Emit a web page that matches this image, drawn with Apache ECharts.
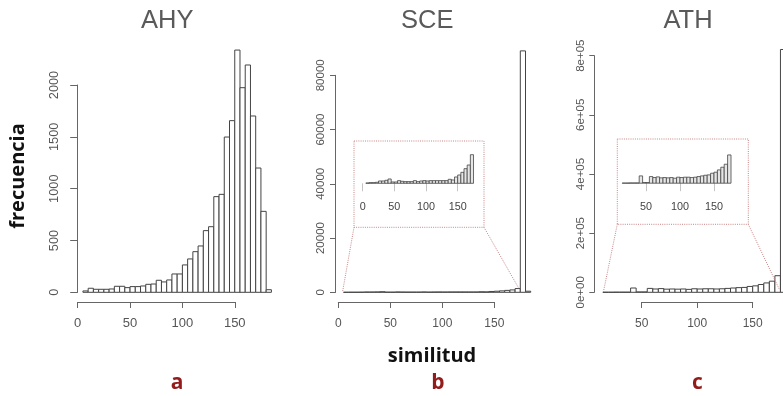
<!DOCTYPE html>
<html><head><meta charset="utf-8">
<script src="https://cdn.jsdelivr.net/npm/echarts@6/dist/echarts.min.js"></script>
<style>html,body{margin:0;padding:0;background:#fff}#c{width:783px;height:396px}</style>
</head><body><div id="c"></div>
<script>
// ---- data ----
const binWidth = 5;
const ahyStart = 5;
const ahyCounts = [13,39,29,29,29,32,58,58,45,55,55,61,77,80,116,100,119,177,177,264,322,392,447,595,633,923,945,1498,1656,2337,1974,2193,1701,1199,781,25];
const sceStart = 5;
const sceCounts = [16,32,32,48,112,112,144,208,64,64,128,96,80,80,80,128,80,112,128,112,128,128,128,128,128,128,192,160,304,400,528,704,880,1376,89000,400];
const athStart = 15;
const athCounts = [300,300,500,500,500,14500,1300,1300,13200,11200,12500,10600,11200,10600,11200,9900,11900,11200,11900,11900,11200,11900,13200,14500,15800,16500,19800,21800,26400,31700,37600,56100,821000,3000];
const insetLimit = 175;
const titles = ['AHY', 'SCE', 'ATH'];
const letters = ['a', 'b', 'c'];
const xTicksMain = [[0, 150], [0, 150], [50, 150]];
const yTicksMain = [[0, 2000, 500], [0, 80000, 20000], [0, 800000, 200000]];
const insetTicksB = [0, 50, 100, 150];
const insetTicksC = [50, 100, 150];
const yLabel = 'frecuencia';
const xLabel = 'similitud';

function toBins(start, counts, limit) {
  const out = [];
  counts.forEach((c, i) => {
    const x0 = start + i * binWidth, x1 = x0 + binWidth;
    if (limit == null || x1 <= limit) out.push([x0, x1, c]);
  });
  return out;
}

function hist(xi, data, fill, lw) {
  return {
    type: 'custom', xAxisIndex: xi, yAxisIndex: xi, data, silent: true, clip: false,
    encode: { x: [0, 1], y: 2 },
    renderItem: (params, api) => {
      const p0 = api.coord([api.value(0), api.value(2)]);
      const p1 = api.coord([api.value(1), 0]);
      return { type: 'rect', shape: { x: p0[0], y: p0[1], width: p1[0] - p0[0], height: p1[1] - p0[1] },
        style: { fill, stroke: '#444', lineWidth: lw } };
    }
  };
}

const FONT = '"Liberation Sans", Arial, sans-serif';
const TICKC = '#555';
const grids = [], xAxes = [], yAxes = [], series = [];
function addGrid(g) { grids.push(Object.assign({ containLabel: false, outerBoundsMode: 'none' }, g)); return grids.length - 1; }
const hiddenX = (gi, min, max) => ({ gridIndex: gi, type: 'value', min, max, show: false });
const hiddenY = (gi, min, max) => ({ gridIndex: gi, type: 'value', min, max, show: false });

// main plot grids: [left px of x=0, px per unit x, baseline y, px per unit y]
const mainLayout = [
  { left: 77.7, ux: 1.047, base: 292.3, yMax: 2400, uy: 0.10365, start: ahyStart, counts: ahyCounts },
  { left: 338.3, ux: 1.04, base: 292.3, yMax: 95000, uy: 0.0027125, start: sceStart, counts: sceCounts },
  { left: 586.2, ux: 1.11, base: 292.3, yMax: 900000, uy: 0.00029575, start: athStart, counts: athCounts }
];
const xMaxMain = 190;
mainLayout.forEach(m => {
  const h = m.yMax * m.uy;
  const gi = addGrid({ left: m.left, width: xMaxMain * m.ux, top: m.base - h, height: h });
  xAxes.push(hiddenX(gi, 0, xMaxMain));
  yAxes.push(hiddenY(gi, 0, m.yMax));
  series.push(hist(gi, toBins(m.start, m.counts), '#fff', 1));
});

// R-style x axes
const xAxisLayout = [
  { fs: 13, margin: 14.8 }, { fs: 12, margin: 15.3 }, { fs: 12, margin: 15.3 }
];
mainLayout.forEach((m, i) => {
  const [a, b] = xTicksMain[i];
  const gi = addGrid({ left: m.left + a * m.ux, width: (b - a) * m.ux, top: 301, height: 1 });
  xAxes.push({ gridIndex: gi, type: 'value', min: a, max: b, interval: 50, position: 'bottom',
    axisLine: { show: true, lineStyle: { color: '#666', width: 1 } },
    axisTick: { show: true, length: 6, lineStyle: { color: '#666', width: 1 } },
    axisLabel: { fontSize: xAxisLayout[i].fs, color: TICKC, fontFamily: FONT, margin: xAxisLayout[i].margin },
    splitLine: { show: false } });
  yAxes.push(hiddenY(gi, 0, 1));
  series.push({ type: 'line', xAxisIndex: gi, yAxisIndex: gi, data: [], silent: true });
});

// R-style y axes
const yAxisLayout = [
  { x: 77.7, fs: 12.8, margin: 16.6, tick: 7.5 },
  { x: 335.7, fs: 11.5, margin: 8.4, tick: 5.7 },
  { x: 594.3, fs: 11.5, margin: 7.7, tick: 5 }
];
mainLayout.forEach((m, i) => {
  const [a, b, iv] = yTicksMain[i];
  const L = yAxisLayout[i];
  const gi = addGrid({ left: L.x, width: 1, top: m.base - b * m.uy, height: (b - a) * m.uy });
  xAxes.push(hiddenX(gi, 0, 1));
  yAxes.push({ gridIndex: gi, type: 'value', min: a, max: b, interval: iv, position: 'left',
    axisLine: { show: true, lineStyle: { color: '#666', width: 1 } },
    axisTick: { show: true, length: L.tick, lineStyle: { color: '#666', width: 1 } },
    axisLabel: { rotate: 90, fontSize: L.fs, color: TICKC, fontFamily: FONT, margin: L.margin,
      formatter: i === 2 ? (v => v === 0 ? '0e+00' : (v / 100000) + 'e+05') : (v => String(v)) },
    splitLine: { show: false } });
  series.push({ type: 'line', xAxisIndex: gi, yAxisIndex: gi, data: [], silent: true });
});

// insets
const insetLayout = [
  { left: 362.7, ux: 0.6333, base: 183.3, yMax: 1500, uy: 0.020785, start: sceStart, counts: sceCounts, ticks: insetTicksB },
  { left: 612, ux: 0.68, base: 183.2, yMax: 60000, uy: 0.000504, start: athStart, counts: athCounts, ticks: insetTicksC }
];
insetLayout.forEach(s => {
  const h = s.yMax * s.uy;
  const gi = addGrid({ left: s.left, width: 180 * s.ux, top: s.base - h, height: h });
  xAxes.push({ gridIndex: gi, type: 'value', min: 0, max: 180, position: 'bottom',
    axisLine: { show: false },
    axisTick: { show: true, length: 8, customValues: s.ticks, lineStyle: { color: '#c4c4c4', width: 1 } },
    axisLabel: { show: true, customValues: s.ticks, fontSize: 10.8, color: '#444', fontFamily: FONT, margin: 18 },
    splitLine: { show: false } });
  yAxes.push(hiddenY(gi, 0, s.yMax));
  series.push(hist(gi, toBins(s.start, s.counts, insetLimit), '#e6e6e6', 0.8));
});

// annotations: dotted boxes and zoom lines
const BOX = '#c98585';
const dashed = { stroke: BOX, lineWidth: 1, lineDash: [1, 1.2], fill: null };
const boxes = [
  { x0: 354, y0: 141, x1: 484, y1: 227.3, l: [342.7, 291], r: [519, 288.7] },
  { x0: 617.3, y0: 139, x1: 748.3, y1: 224.3, l: [603.3, 292.3], r: [779.3, 289.3] }
];
const graphics = [];
boxes.forEach(b => {
  graphics.push({ type: 'rect', shape: { x: b.x0, y: b.y0, width: b.x1 - b.x0, height: b.y1 - b.y0 }, style: dashed, silent: true, z: 5 });
  graphics.push({ type: 'line', shape: { x1: b.x0, y1: b.y1, x2: b.l[0], y2: b.l[1] }, style: dashed, silent: true, z: 5 });
  graphics.push({ type: 'line', shape: { x1: b.x1, y1: b.y1, x2: b.r[0], y2: b.r[1] }, style: dashed, silent: true, z: 5 });
});
function txt(text, x, y, font, fill, rot) {
  return { type: 'text', x, y, rotation: rot || 0, silent: true, z: 10,
    style: { text, font, fill, align: 'center', verticalAlign: 'middle', textAlign: 'center', textVerticalAlign: 'middle' } };
}
const titleX = [167.2, 427.3, 688];
titles.forEach((t, i) => graphics.push(txt(t, titleX[i], 21, '25.5px ' + FONT, '#5a5a5a')));
const letterX = [177, 438, 697.5];
letters.forEach((t, i) => graphics.push(txt(t, letterX[i], 383, 'bold 21px "Open Sans", sans-serif', '#921b1b')));
graphics.push(txt(yLabel, 18, 176, 'bold 20px "Open Sans", sans-serif', '#111', Math.PI / 2));
graphics.push(txt(xLabel, 432, 356, 'bold 20px "Open Sans", sans-serif', '#111'));

const chart = echarts.init(document.getElementById('c'), null, { renderer: 'canvas' });
chart.setOption({
  animation: false, backgroundColor: '#fff',
  grid: grids, xAxis: xAxes, yAxis: yAxes, series, graphic: graphics
});
</script></body></html>
